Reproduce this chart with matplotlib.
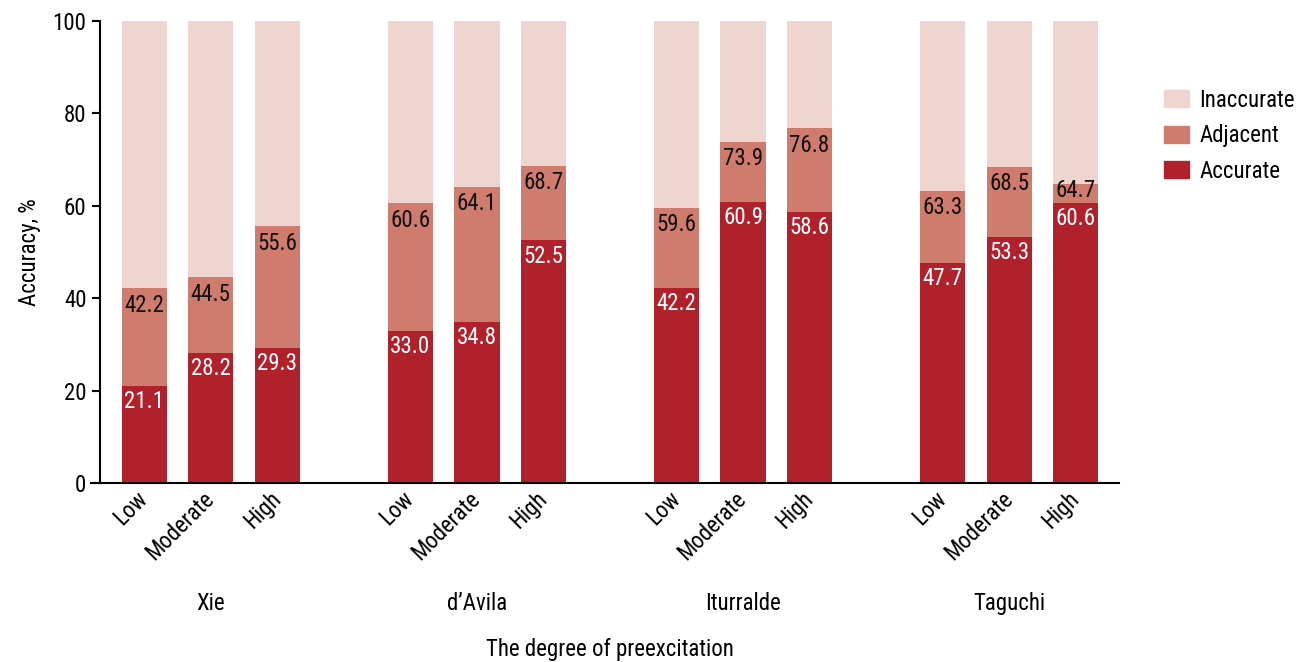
import matplotlib
matplotlib.use("Agg")
import matplotlib.pyplot as plt
from matplotlib import font_manager
from matplotlib.patches import Patch

# Datos
studies = ["Xie", "d\u2019Avila", "Iturralde", "Taguchi"]
degrees = ["Low", "Moderate", "High"]
accurate = [21.1, 28.2, 29.3, 33.0, 34.8, 52.5, 42.2, 60.9, 58.6, 47.7, 53.3, 60.6]
adj_cum = [42.2, 44.5, 55.6, 60.6, 64.1, 68.7, 59.6, 73.9, 76.8, 63.3, 68.5, 64.7]
total = [100] * 12

c_acc = "#B0212C"
c_adj = "#CF7B6E"
c_inacc = "#EFD4CF"

# fuente condensada si existe
available = {f.name for f in font_manager.fontManager.ttflist}
family = "DejaVu Sans"
for cand in ["Noto Sans Condensed", "Liberation Sans Narrow", "Roboto Condensed",
             "Open Sans Condensed", "Noto Sans"]:
    if cand in available:
        family = cand
        break
plt.rcParams["font.family"] = [family, "DejaVu Sans"]
fs = 16.5
plt.rcParams["font.size"] = fs

fig = plt.figure(figsize=(13.02, 6.62), dpi=100)
ax = fig.add_axes([0.0699, 0.2704, 0.7895, 0.6979])

x = []
for g in range(len(studies)):
    for i in range(len(degrees)):
        x.append(g * 4 + i)

w = 0.68
adjacent = [c - a for c, a in zip(adj_cum, accurate)]
inacc = [t - c for t, c in zip(total, adj_cum)]
ax.bar(x, accurate, w, color=c_acc)
ax.bar(x, adjacent, w, bottom=accurate, color=c_adj)
ax.bar(x, inacc, w, bottom=adj_cum, color=c_inacc)

for xi, a, c in zip(x, accurate, adj_cum):
    ax.annotate(f"{a:.1f}", (xi, a), xytext=(0, -3), textcoords="offset points",
                ha="center", va="top", color="white", fontsize=fs)
    # segmento muy corto: etiqueta sube un poco
    off = -4 if (c - a) > 6 else 4
    ax.annotate(f"{c:.1f}", (xi, c), xytext=(0, off), textcoords="offset points",
                ha="center", va="top", color="#111111", fontsize=fs)

ax.set_xlim(-0.8, 14.65)
ax.set_ylim(0, 100)
ax.set_yticks([0, 20, 40, 60, 80, 100])
ax.set_xticks(x)
ax.set_xticklabels(degrees * len(studies), rotation=45, ha="right", va="center",
                   rotation_mode="anchor", fontsize=fs)
ax.tick_params(axis="x", length=0, pad=9)
ax.tick_params(axis="y", length=6, width=1.5, labelsize=fs)
ax.spines["top"].set_visible(False)
ax.spines["right"].set_visible(False)
ax.spines["left"].set_position(("data", -0.67))
ax.spines["left"].set_linewidth(1.5)
ax.spines["bottom"].set_linewidth(1.5)
ax.set_ylabel("Accuracy, %", fontsize=fs, labelpad=8)

for g, s in enumerate(studies):
    ax.text(g * 4 + 1, -0.26, s, transform=ax.get_xaxis_transform(),
            ha="center", va="center", fontsize=fs)
ax.text(0.5 * (x[0] + x[-1]), -0.361, "The degree of preexcitation",
        transform=ax.get_xaxis_transform(), ha="center", va="center", fontsize=fs)

handles = [Patch(color=c_inacc), Patch(color=c_adj), Patch(color=c_acc)]
fig.legend(handles, ["Inaccurate", "Adjacent", "Accurate"], loc="upper left",
           bbox_to_anchor=(0.887, 0.88), frameon=False, fontsize=fs,
           handlelength=1.1, handleheight=0.75, labelspacing=0.55, handletextpad=0.45,
           borderaxespad=0)

fig.savefig("out.png", dpi=100)
